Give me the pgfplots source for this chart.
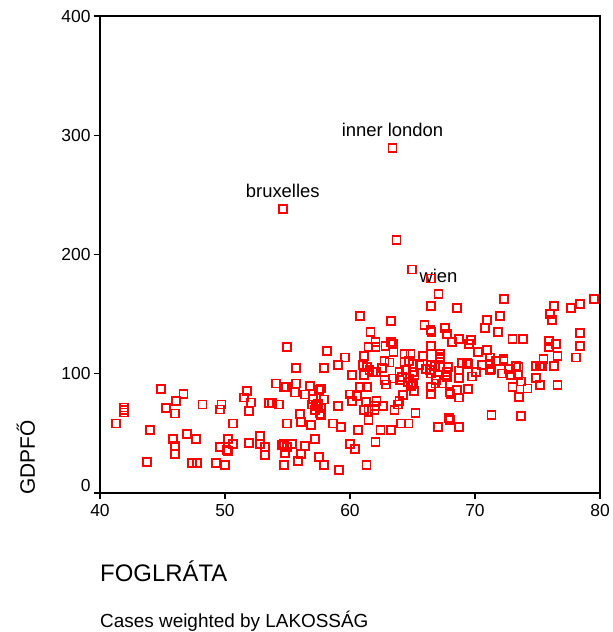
\documentclass[border=0pt]{standalone}
\usepackage{fontspec}
\setmainfont{Liberation Sans}
\usepackage{pgfplots}
\usepackage{pgfplotstable}
\pgfplotsset{compat=1.18}
\definecolor{spssred}{RGB}{255,0,0}
\pgfplotstableread{
x y
63.40 289.5
54.62 238.5
63.72 212.5
64.97 187.4
66.49 179.9
67.08 167.1
66.49 156.9
68.57 155.4
72.32 162.6
76.32 156.7
77.70 155.4
78.42 158.4
79.51 162.6
76.02 150.4
76.18 145.4
72.00 148.4
70.93 145.4
70.81 138.1
71.87 135.3
65.96 140.8
66.44 136.4
66.52 135.1
67.58 138.1
67.76 133.6
68.70 129.5
68.14 126.6
69.68 128.0
69.55 124.9
73.00 129.5
73.83 129.5
78.42 133.9
78.42 123.3
75.91 127.2
75.91 122.2
76.47 124.9
76.60 114.9
78.11 113.6
66.49 123.3
65.82 114.6
67.20 116.3
67.20 114.2
67.20 112.5
70.21 118.0
70.93 119.7
71.17 113.6
72.28 112.7
71.68 111.0
72.28 111.0
68.96 109.0
69.36 109.4
69.47 108.5
70.56 107.7
71.23 108.5
71.28 104.0
66.49 107.1
66.81 106.3
67.81 106.0
67.23 105.4
68.70 102.7
70.08 101.5
71.23 102.9
72.13 100.2
72.75 103.8
73.27 106.5
73.48 105.7
72.90 99.0
73.47 99.0
74.90 106.3
75.17 106.5
75.48 112.1
75.38 106.3
76.32 106.3
66.49 100.2
67.76 97.3
67.76 101.8
68.70 96.2
69.77 97.7
74.87 96.5
73.70 93.5
74.20 87.6
73.00 89.0
75.21 90.4
76.60 90.4
66.84 91.8
67.37 91.8
66.49 89.0
66.49 82.8
67.96 84.8
68.04 82.8
68.70 80.1
68.57 86.2
69.41 87.3
73.54 80.3
71.32 65.5
73.70 64.2
67.89 63.0
68.00 61.1
67.04 55.5
68.70 55.5
41.25 58.3
41.94 71.7
41.94 69.6
41.94 67.5
44.02 52.5
43.75 26.2
44.85 87.3
45.27 71.4
45.99 66.7
46.09 77.2
46.68 82.8
45.83 45.2
45.99 39.1
45.99 32.6
46.95 49.6
47.67 45.2
48.20 74.2
47.36 24.9
47.77 24.9
49.29 24.9
49.98 23.4
49.72 74.2
49.58 70.0
50.67 58.3
50.27 45.2
50.67 41.0
49.58 38.2
50.12 36.0
50.27 34.9
51.79 85.9
51.50 80.1
52.08 75.9
51.95 68.6
51.95 42.1
52.78 47.9
52.78 41.4
54.99 122.2
58.15 119.4
60.79 148.4
63.29 143.9
61.64 135.0
62.04 126.4
62.04 122.8
61.48 122.2
62.84 123.6
63.29 126.4
63.42 124.9
63.48 118.0
59.57 113.6
59.01 107.7
61.09 114.9
61.04 107.7
61.36 106.0
61.56 103.5
62.09 101.5
61.82 101.5
62.76 110.7
63.16 109.4
62.57 104.6
64.36 116.3
64.84 116.3
64.36 109.9
64.70 110.5
65.02 108.5
65.56 107.7
66.09 103.8
66.36 102.9
63.96 101.5
64.49 103.5
65.02 101.5
64.17 97.3
64.76 96.0
65.16 98.7
64.62 93.1
65.02 91.2
65.10 85.6
55.65 104.6
57.89 104.6
60.13 98.7
61.09 98.7
54.11 91.8
54.74 88.5
54.90 89.0
55.57 84.3
55.67 91.8
56.80 90.1
56.37 82.6
57.49 86.2
57.65 87.6
57.04 78.9
57.89 78.4
56.98 74.2
57.30 73.1
57.44 74.7
57.68 70.9
57.57 66.7
57.70 65.3
57.19 69.7
59.01 72.8
59.97 82.6
60.18 77.0
60.55 81.4
60.77 89.0
61.36 89.0
61.12 69.5
61.48 70.9
61.96 73.1
62.12 77.0
62.63 72.8
61.96 69.5
61.48 61.1
63.56 69.7
63.83 74.2
63.96 77.2
64.22 82.0
65.24 66.9
64.09 58.3
64.68 58.3
62.44 52.5
63.29 52.5
60.63 52.5
54.95 58.3
56.10 59.7
55.97 65.9
56.90 56.9
58.61 58.3
59.27 55.5
57.19 45.2
53.18 38.7
53.18 31.8
54.56 40.2
54.70 41.0
54.96 38.5
55.39 41.0
54.82 33.7
56.37 39.6
56.10 32.9
55.81 26.5
54.70 23.7
57.49 29.9
57.89 23.4
59.11 19.2
59.97 41.0
60.39 36.6
61.32 23.7
62.04 42.4
53.54 75.6
53.76 75.6
54.32 74.2
62.76 95.1
62.90 91.0
63.43 96.0
63.96 94.6
64.89 89.5
66.91 94.6
67.68 98.7
61.25 76.4
}\data
\begin{document}
\begin{tikzpicture}
\useasboundingbox (-100bp,-139bp) rectangle (513bp,493bp);
\begin{axis}[
  at={(0,0)}, anchor=south west,
  width=500bp, height=477bp, scale only axis,
  xmin=40, xmax=80, ymin=0, ymax=400,
  xtick={40,50,60,70,80}, ytick={0,100,200,300,400},
  yticklabels={\raisebox{1.6ex}{0},100,200,300,400},
  tick align=outside, xtick pos=left, ytick pos=left,
  major tick length=6bp,
  tick style={black, line width=1.2bp},
  axis line style={black, line width=1.5bp},
  ticklabel style={font=\fontsize{17.5}{20}\selectfont},
  xticklabel style={yshift=-2bp},
  /pgf/number format/assume math mode=true,
  xlabel={FOGLRÁTA},
  xlabel style={at={(axis description cs:0,-0.1855)}, anchor=base west, inner sep=0pt, font=\fontsize{24}{28}\selectfont},
  ylabel={GDPFŐ},
  ylabel style={at={(axis description cs:-0.13,-0.004)}, anchor=base west, inner sep=0pt, font=\fontsize{21}{25}\selectfont},
  clip=false,
]
\addplot[spssred, only marks, mark=square, mark size=4bp,
  mark options={solid, draw=spssred, fill=none, line width=1.9bp}] table {\data};
\node[anchor=base, inner sep=0pt, yshift=11bp, font=\fontsize{18.5}{22}\selectfont] at (axis cs:63.40,289.5) {inner london};
\node[anchor=base, inner sep=0pt, yshift=11bp, font=\fontsize{18.5}{22}\selectfont] at (axis cs:54.62,238.5) {bruxelles};
\node[anchor=base, inner sep=0pt, yshift=11bp, font=\fontsize{18.5}{22}\selectfont] at (axis cs:67.08,167.1) {wien};
\node[anchor=base west, inner sep=0pt, font=\fontsize{19}{22}\selectfont] at (axis description cs:0,-0.281) {Cases weighted by LAKOSSÁG};
\end{axis}
\end{tikzpicture}
\end{document}
